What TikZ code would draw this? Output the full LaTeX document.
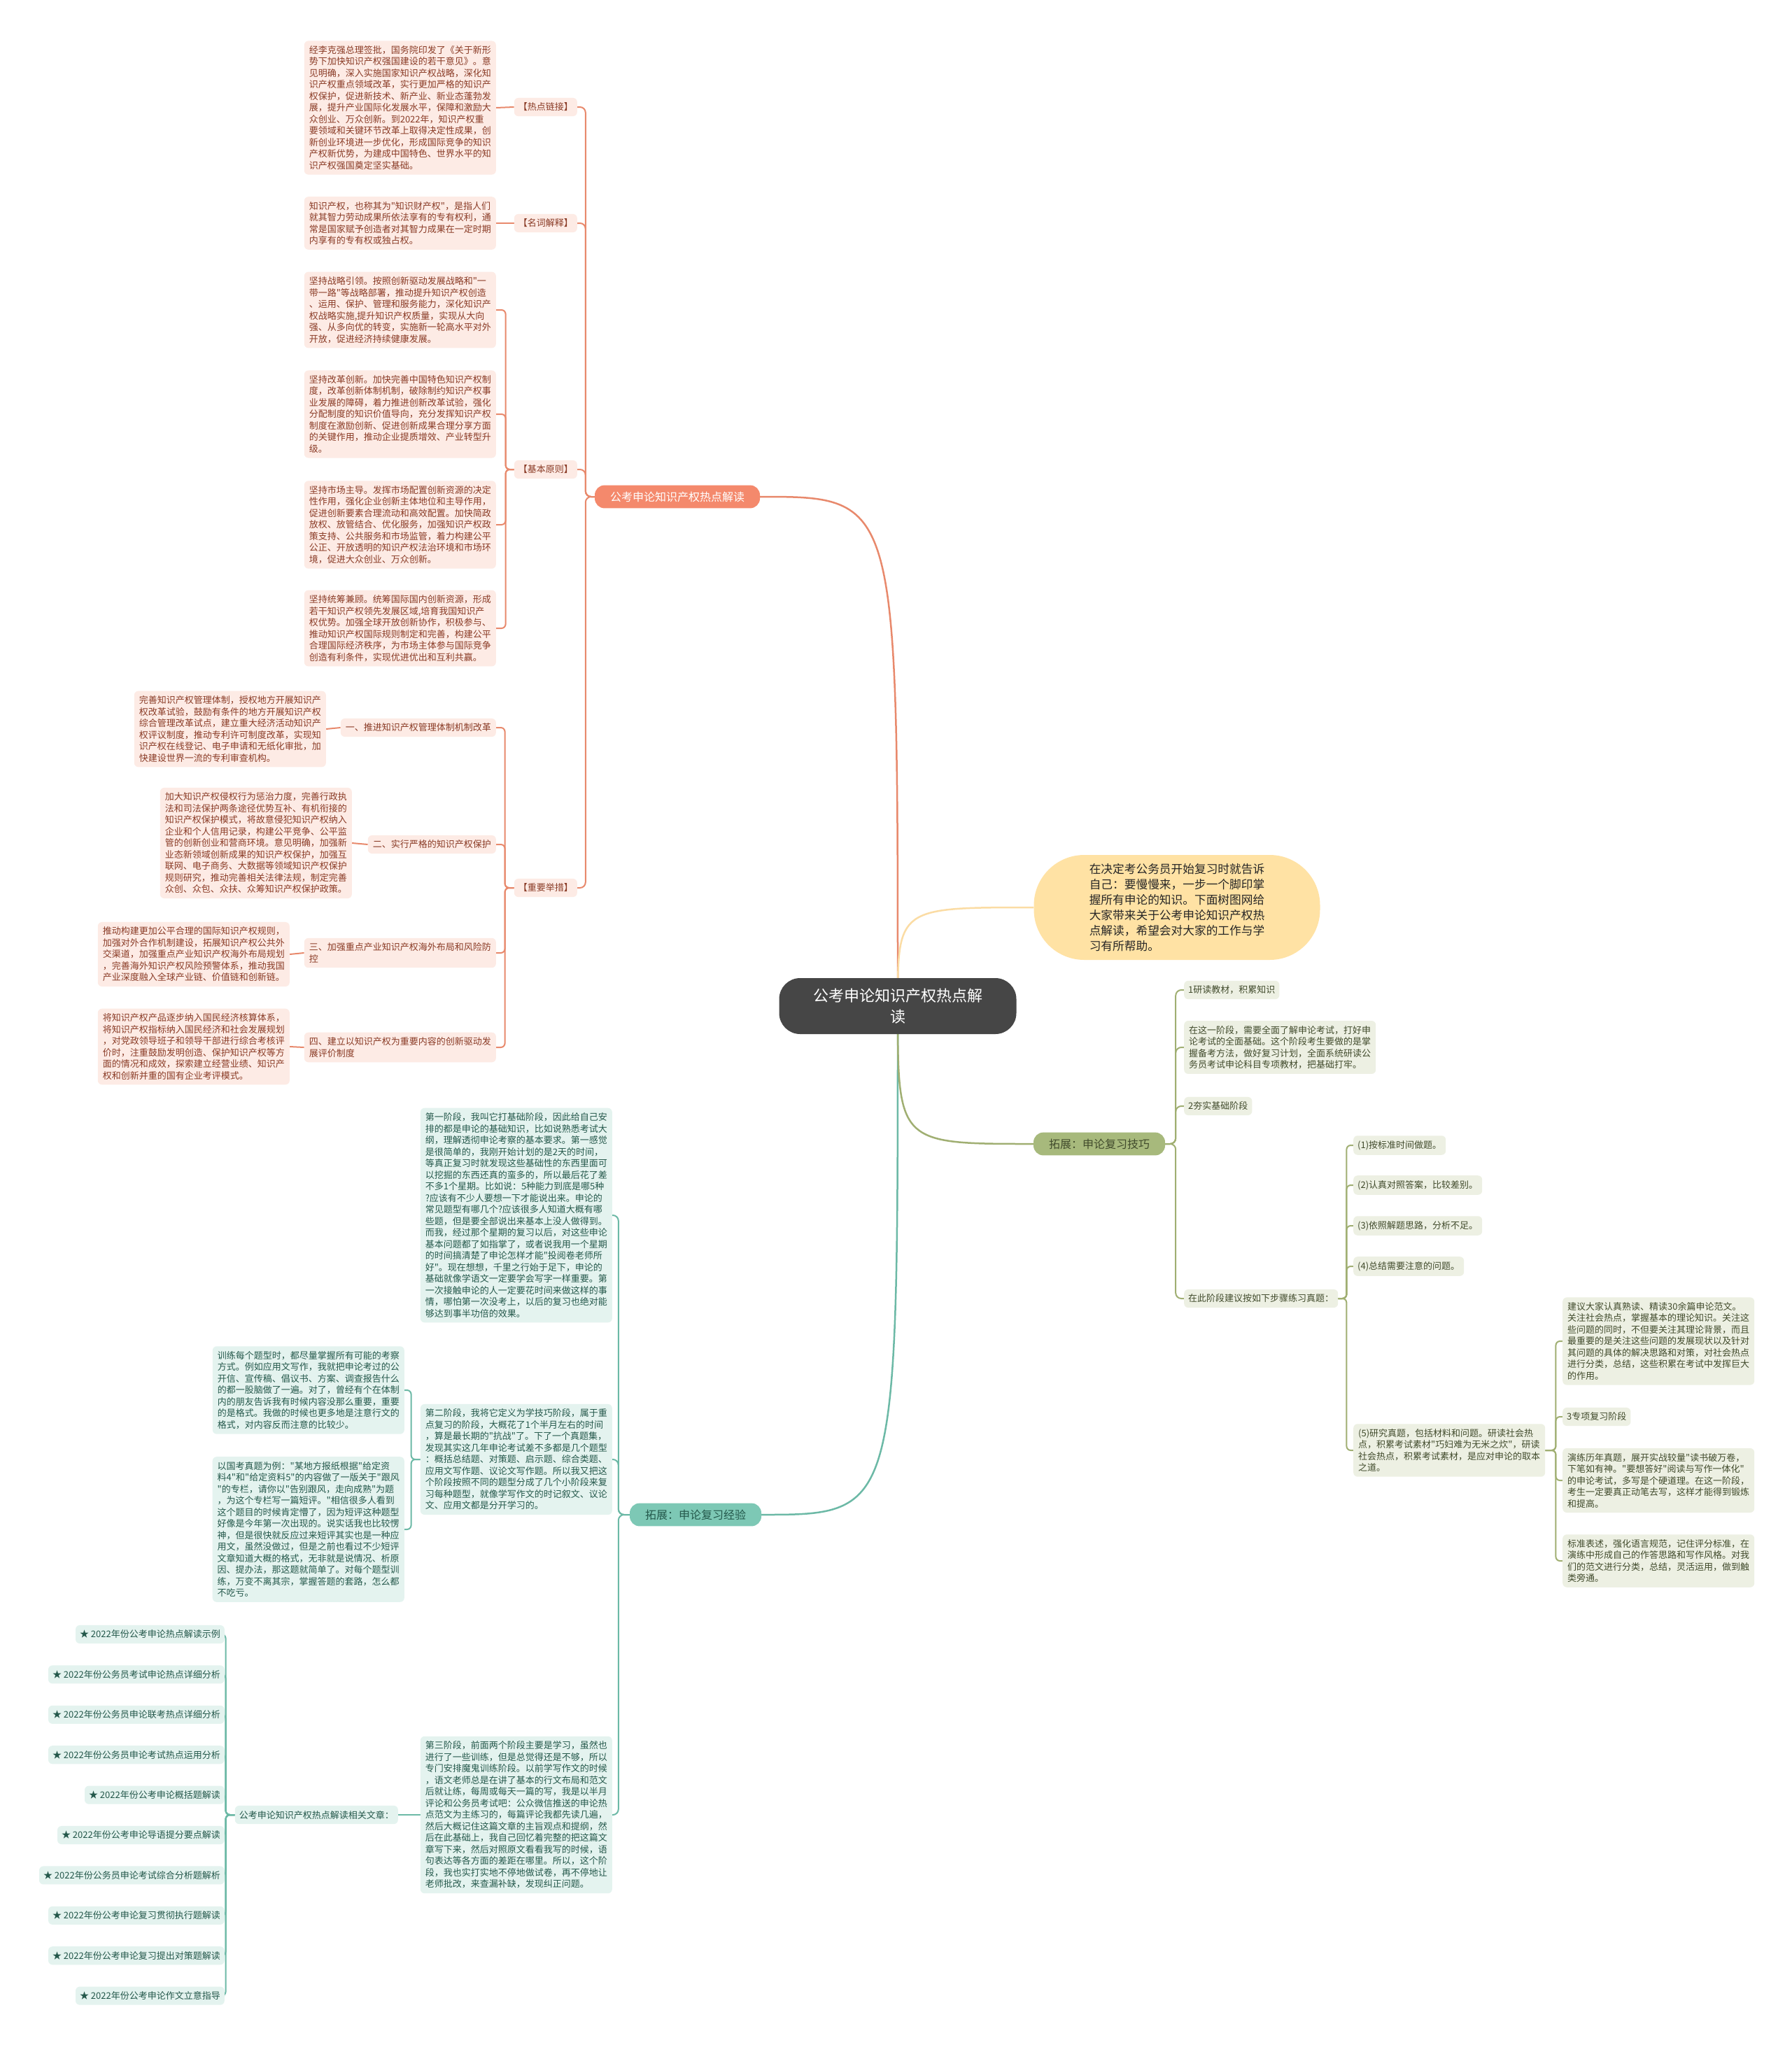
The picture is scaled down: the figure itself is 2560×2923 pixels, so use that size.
\documentclass[tikz,border=0pt]{standalone}
\usepackage{fontspec}
\newfontfamily\cjkf{Noto Sans CJK SC}
\usetikzlibrary{backgrounds}
\definecolor{cS}{HTML}{E8896C}
\definecolor{cSfill}{HTML}{FDEBE5}
\definecolor{cStext}{HTML}{8A3B26}
\definecolor{cSbr}{HTML}{F4896C}
\definecolor{cT}{HTML}{6CB9A6}
\definecolor{cTfill}{HTML}{E4F3EF}
\definecolor{cTtext}{HTML}{24584B}
\definecolor{cTbr}{HTML}{7DC8B5}
\definecolor{cO}{HTML}{A0AF72}
\definecolor{cOfill}{HTML}{EDF0E3}
\definecolor{cOtext}{HTML}{414B2C}
\definecolor{cObr}{HTML}{A7B97C}
\definecolor{cY}{HTML}{FFE2A4}
\definecolor{cYline}{HTML}{FBDCA4}
\definecolor{cRoot}{HTML}{464646}
\tikzset{
  base/.style={font=\cjkf\fontsize{13}{16.5}\selectfont, align=left, inner xsep=7, inner ysep=7, rounded corners=6},
  sbox/.style={base, fill=cSfill, text=cStext},
  tbox/.style={base, fill=cTfill, text=cTtext},
  obox/.style={base, fill=cOfill, text=cOtext},
  slab/.style={sbox, inner xsep=6},
  tlab/.style={tbox, inner xsep=6},
  olab/.style={obox, inner xsep=6},
  brbox/.style={font=\cjkf\fontsize{16}{20}\selectfont, inner xsep=22, inner ysep=9, rounded corners=14},
  slink/.style={draw=cS, line width=2, rounded corners=8},
  tlink/.style={draw=cT, line width=2, rounded corners=8},
  olink/.style={draw=cO, line width=2, rounded corners=8},
  curve/.style={line width=2.5},
}
\begin{document}
\begin{tikzpicture}[x=1pt, y=-1pt]
\useasboundingbox (0,0) rectangle (2560,2923);

% root
\node[fill=cRoot, text=white, font=\cjkf\fontsize{22}{30}\selectfont, align=center, rounded corners=30, minimum width=339, minimum height=80] (root) at (1283,1438) {公考申论知识产权热点解\\读};

% intro
\node[fill=cY, text=black!85, font=\cjkf\fontsize{16.7}{22.1}\selectfont, align=left, rounded corners=72, minimum width=409, minimum height=150] (intro) at (1682,1297) {在决定考公务员开始复习时就告诉\\自己：要慢慢来，一步一个脚印掌\\握所有申论的知识。下面树图网给\\大家带来关于公考申论知识产权热\\点解读，希望会对大家的工作与学\\习有所帮助。};

% ===== salmon branch =====
\node[brbox, fill=cSbr, text=white] (bS) at (968,710) {公考申论知识产权热点解读};

\node[slab, anchor=east] (s1) at (825,153) {【热点链接】};
\node[sbox, anchor=east] (s1t) at (709,154) {经李克强总理签批，国务院印发了《关于新形\\势下加快知识产权强国建设的若干意见》。意\\见明确，深入实施国家知识产权战略，深化知\\识产权重点领域改革，实行更加严格的知识产\\权保护，促进新技术、新产业、新业态蓬勃发\\展，提升产业国际化发展水平，保障和激励大\\众创业、万众创新。到2022年，知识产权重\\要领域和关键环节改革上取得决定性成果，创\\新创业环境进一步优化，形成国际竞争的知识\\产权新优势，为建成中国特色、世界水平的知\\识产权强国奠定坚实基础。};

\node[slab, anchor=east] (s2) at (825,319) {【名词解释】};
\node[sbox, anchor=east] (s2t) at (709,319) {知识产权，也称其为"知识财产权"，是指人们\\就其智力劳动成果所依法享有的专有权利，通\\常是国家赋予创造者对其智力成果在一定时期\\内享有的专有权或独占权。};

\node[slab, anchor=east] (s3) at (825,671) {【基本原则】};
\node[sbox, anchor=east] (s3a) at (709,443) {坚持战略引领。按照创新驱动发展战略和"一\\带一路"等战略部署，推动提升知识产权创造\\、运用、保护、管理和服务能力，深化知识产\\权战略实施,提升知识产权质量，实现从大向\\强、从多向优的转变，实施新一轮高水平对外\\开放，促进经济持续健康发展。};
\node[sbox, anchor=east] (s3b) at (709,592) {坚持改革创新。加快完善中国特色知识产权制\\度，改革创新体制机制，破除制约知识产权事\\业发展的障碍，着力推进创新改革试验，强化\\分配制度的知识价值导向，充分发挥知识产权\\制度在激励创新、促进创新成果合理分享方面\\的关键作用，推动企业提质增效、产业转型升\\级。};
\node[sbox, anchor=east] (s3c) at (709,750) {坚持市场主导。发挥市场配置创新资源的决定\\性作用，强化企业创新主体地位和主导作用，\\促进创新要素合理流动和高效配置。加快简政\\放权、放管结合、优化服务，加强知识产权政\\策支持、公共服务和市场监管，着力构建公平\\公正、开放透明的知识产权法治环境和市场环\\境，促进大众创业、万众创新。};
\node[sbox, anchor=east] (s3d) at (709,898) {坚持统筹兼顾。统筹国际国内创新资源，形成\\若干知识产权领先发展区域,培育我国知识产\\权优势。加强全球开放创新协作，积极参与、\\推动知识产权国际规则制定和完善，构建公平\\合理国际经济秩序，为市场主体参与国际竞争\\创造有利条件，实现优进优出和互利共赢。};

\node[slab, anchor=east] (s4) at (825,1269) {【重要举措】};
\node[sbox, anchor=east] (s4a) at (709,1040) {一、推进知识产权管理体制机制改革};
\node[sbox, anchor=east] (s4at) at (466,1042) {完善知识产权管理体制，授权地方开展知识产\\权改革试验，鼓励有条件的地方开展知识产权\\综合管理改革试点，建立重大经济活动知识产\\权评议制度，推动专利许可制度改革，实现知\\识产权在线登记、电子申请和无纸化审批，加\\快建设世界一流的专利审查机构。};
\node[sbox, anchor=east] (s4b) at (709,1207) {二、实行严格的知识产权保护};
\node[sbox, anchor=east] (s4bt) at (503,1205) {加大知识产权侵权行为惩治力度，完善行政执\\法和司法保护两条途径优势互补、有机衔接的\\知识产权保护模式，将故意侵犯知识产权纳入\\企业和个人信用记录，构建公平竞争、公平监\\管的创新创业和营商环境。意见明确，加强新\\业态新领域创新成果的知识产权保护，加强互\\联网、电子商务、大数据等领域知识产权保护\\规则研究，推动完善相关法律法规，制定完善\\众创、众包、众扶、众筹知识产权保护政策。};
\node[sbox, anchor=east] (s4c) at (709,1362) {三、加强重点产业知识产权海外布局和风险防\\控};
\node[sbox, anchor=east] (s4ct) at (414,1364) {推动构建更加公平合理的国际知识产权规则，\\加强对外合作机制建设，拓展知识产权公共外\\交渠道，加强重点产业知识产权海外布局规划\\，完善海外知识产权风险预警体系，推动我国\\产业深度融入全球产业链、价值链和创新链。};
\node[sbox, anchor=east] (s4d) at (709,1497) {四、建立以知识产权为重要内容的创新驱动发\\展评价制度};
\node[sbox, anchor=east] (s4dt) at (414,1496) {将知识产权产品逐步纳入国民经济核算体系，\\将知识产权指标纳入国民经济和社会发展规划\\，对党政领导班子和领导干部进行综合考核评\\价时，注重鼓励发明创造、保护知识产权等方\\面的情况和成效，探索建立经营业绩、知识产\\权和创新并重的国有企业考评模式。};

% ===== teal branch =====
\node[brbox, fill=cTbr, text=cTtext] (bT) at (994,2165) {拓展：申论复习经验};
\node[tbox, anchor=east] (t1) at (875,1737) {第一阶段，我叫它打基础阶段，因此给自己安\\排的都是申论的基础知识，比如说熟悉考试大\\纲，理解透彻申论考察的基本要求。第一感觉\\是很简单的，我刚开始计划的是2天的时间，\\等真正复习时就发现这些基础性的东西里面可\\以挖掘的东西还真的蛮多的，所以最后花了差\\不多1个星期。比如说：5种能力到底是哪5种\\?应该有不少人要想一下才能说出来。申论的\\常见题型有哪几个?应该很多人知道大概有哪\\些题，但是要全部说出来基本上没人做得到。\\而我，经过那个星期的复习以后，对这些申论\\基本问题都了如指掌了，或者说我用一个星期\\的时间搞清楚了申论怎样才能"投阅卷老师所\\好"。现在想想，千里之行始于足下，申论的\\基础就像学语文一定要学会写字一样重要。第\\一次接触申论的人一定要花时间来做这样的事\\情，哪怕第一次没考上，以后的复习也绝对能\\够达到事半功倍的效果。};
\node[tbox, anchor=east] (t2) at (875,2086) {第二阶段，我将它定义为学技巧阶段，属于重\\点复习的阶段，大概花了1个半月左右的时间\\，算是最长期的"抗战"了。下了一个真题集，\\发现其实这几年申论考试差不多都是几个题型\\：概括总结题、对策题、启示题、综合类题、\\应用文写作题、议论文写作题。所以我又把这\\个阶段按照不同的题型分成了几个小阶段来复\\习每种题型，就像学写作文的时记叙文、议论\\文、应用文都是分开学习的。};
\node[tbox, anchor=east] (t2a) at (578,1987) {训练每个题型时，都尽量掌握所有可能的考察\\方式。例如应用文写作，我就把申论考过的公\\开信、宣传稿、倡议书、方案、调查报告什么\\的都一股脑做了一遍。对了，曾经有个在体制\\内的朋友告诉我有时候内容没那么重要，重要\\的是格式。我做的时候也更多地是注意行文的\\格式，对内容反而注意的比较少。};
\node[tbox, anchor=east] (t2b) at (578,2186) {以国考真题为例："某地方报纸根据"给定资\\料4"和"给定资料5"的内容做了一版关于"跟风\\"的专栏，请你以"告别跟风，走向成熟"为题\\，为这个专栏写一篇短评。"相信很多人看到\\这个题目的时候肯定懵了，因为短评这种题型\\好像是今年第一次出现的。说实话我也比较愣\\神，但是很快就反应过来短评其实也是一种应\\用文，虽然没做过，但是之前也看过不少短评\\文章知道大概的格式，无非就是说情况、析原\\因、提办法，那这题就简单了。对每个题型训\\练，万变不离其宗，掌握答题的套路，怎么都\\不吃亏。};
\node[tbox, anchor=east] (t3) at (875,2594) {第三阶段，前面两个阶段主要是学习，虽然也\\进行了一些训练，但是总觉得还是不够，所以\\专门安排魔鬼训练阶段。以前学写作文的时候\\，语文老师总是在讲了基本的行文布局和范文\\后就让练，每周或每天一篇的写，我是以半月\\评论和公务员考试吧：公众微信推送的申论热\\点范文为主练习的，每篇评论我都先读几遍，\\然后大概记住这篇文章的主旨观点和提纲，然\\后在此基础上，我自己回忆着完整的把这篇文\\章写下来，然后对照原文看看我写的时候，语\\句表达等各方面的差距在哪里。所以，这个阶\\段，我也实打实地不停地做试卷，再不停地让\\老师批改，来查漏补缺，发现纠正问题。};
\node[tlab, anchor=east] (t3a) at (569,2594) {公考申论知识产权热点解读相关文章：};
\node[tlab, anchor=east] (a1) at (321,2336) {★ 2022年份公考申论热点解读示例};
\node[tlab, anchor=east] (a2) at (321,2393.4) {★ 2022年份公务员考试申论热点详细分析};
\node[tlab, anchor=east] (a3) at (321,2450.8) {★ 2022年份公务员申论联考热点详细分析};
\node[tlab, anchor=east] (a4) at (321,2508.2) {★ 2022年份公务员申论考试热点运用分析};
\node[tlab, anchor=east] (a5) at (321,2565.6) {★ 2022年份公考申论概括题解读};
\node[tlab, anchor=east] (a6) at (321,2623) {★ 2022年份公考申论导语提分要点解读};
\node[tlab, anchor=east] (a7) at (321,2680.4) {★ 2022年份公务员申论考试综合分析题解析};
\node[tlab, anchor=east] (a8) at (321,2737.8) {★ 2022年份公考申论复习贯彻执行题解读};
\node[tlab, anchor=east] (a9) at (321,2795.2) {★ 2022年份公考申论复习提出对策题解读};
\node[tlab, anchor=east] (a10) at (321,2852.6) {★ 2022年份公考申论作文立意指导};

% ===== olive branch =====
\node[brbox, fill=cObr, text=cOtext] (bO) at (1571,1635) {拓展：申论复习技巧};
\node[olab, anchor=west] (o1) at (1692,1415) {1研读教材，积累知识};
\node[obox, anchor=west] (o2) at (1692,1497) {在这一阶段，需要全面了解申论考试，打好申\\论考试的全面基础。这个阶段考生要做的是掌\\握备考方法，做好复习计划，全面系统研读公\\务员考试申论科目专项教材，把基础打牢。};
\node[olab, anchor=west] (o3) at (1692,1581) {2夯实基础阶段};
\node[olab, anchor=west] (o4) at (1692,1856) {在此阶段建议按如下步骤练习真题：};
\node[olab, anchor=west] (o4a) at (1934,1637) {(1)按标准时间做题。};
\node[olab, anchor=west] (o4b) at (1934,1694) {(2)认真对照答案，比较差别。};
\node[olab, anchor=west] (o4c) at (1934,1752) {(3)依照解题思路，分析不足。};
\node[olab, anchor=west] (o4d) at (1934,1810) {(4)总结需要注意的问题。};
\node[obox, anchor=west] (o4e) at (1934,2073) {(5)研究真题，包括材料和问题。研读社会热\\点，积累考试素材"巧妇难为无米之炊"，研读\\社会热点，积累考试素材，是应对申论的取本\\之道。};
\node[obox, anchor=west] (e1) at (2233,1917) {建议大家认真熟读、精读30余篇申论范文。\\关注社会热点，掌握基本的理论知识。关注这\\些问题的同时，不但要关注其理论背景，而且\\最重要的是关注这些问题的发展现状以及针对\\其问题的具体的解决思路和对策，对社会热点\\进行分类，总结，这些积累在考试中发挥巨大\\的作用。};
\node[olab, anchor=west] (e2) at (2233,2025) {3专项复习阶段};
\node[obox, anchor=west] (e3) at (2233,2116) {演练历年真题，展开实战较量"读书破万卷，\\下笔如有神。"要想答好"阅读与写作一体化"\\的申论考试，多写是个硬道理。在这一阶段，\\考生一定要真正动笔去写，这样才能得到锻炼\\和提高。};
\node[obox, anchor=west] (e4) at (2233,2231) {标准表述，强化语言规范，记住评分标准，在\\演练中形成自己的作答思路和写作风格。对我\\们的范文进行分类，总结，灵活运用，做到触\\类旁通。};

\begin{pgfonlayer}{background}
\fill[white] (0,0) rectangle (2560,2923);
% main curves
\draw[curve, cS] (root.center) .. controls (root.center |- bS.east) .. (bS.east);
\draw[curve, cT] (root.center) .. controls (root.center |- bT.east) .. (bT.east);
\draw[curve, cYline] (root.center) .. controls (root.center |- intro.west) .. (intro.west);
\draw[curve, cO] (root.center) .. controls (root.center |- bO.west) .. (bO.west);

% salmon tree
\foreach \c in {s1,s2,s3,s4} \draw[slink] (bS.west) -- ++(-13,0) |- (\c.east);
\draw[slink] (s1.west) -- (s1t.east);
\draw[slink] (s2.west) -- (s2t.east);
\foreach \c in {s3a,s3b,s3c,s3d} \draw[slink, rounded corners=6] (s3.west) -- ++(-12,0) |- (\c.east);
\foreach \c in {s4a,s4b,s4c,s4d} \draw[slink, rounded corners=6] (s4.west) -- ++(-13,0) |- (\c.east);
\draw[slink] (s4a.west) -- (s4at.east);
\draw[slink] (s4b.west) -- (s4bt.east);
\draw[slink] (s4c.west) -- (s4ct.east);
\draw[slink] (s4d.west) -- (s4dt.east);

% teal tree
\foreach \c in {t1,t2,t3} \draw[tlink] (bT.west) -- ++(-16,0) |- (\c.east);
\foreach \c in {t2a,t2b} \draw[tlink, rounded corners=6] (t2.west) -- ++(-13,0) |- (\c.east);
\draw[tlink] (t3.west) -- (t3a.east);
\foreach \c in {a1,a2,a3,a4,a5,a6,a7,a8,a9,a10} \draw[tlink, rounded corners=6] (t3a.west) -- ++(-13,0) |- (\c.east);

% olive tree
\foreach \c in {o1,o2,o3,o4} \draw[olink] (bO.east) -- ++(15,0) |- (\c.west);
\foreach \c in {o4a,o4b,o4c,o4d,o4e} \draw[olink, rounded corners=6] (o4.east) -- ++(12,0) |- (\c.west);
\foreach \c in {e1,e2,e3,e4} \draw[olink, rounded corners=6] (o4e.east) -- ++(15,0) |- (\c.west);
\end{pgfonlayer}
\end{tikzpicture}
\end{document}
